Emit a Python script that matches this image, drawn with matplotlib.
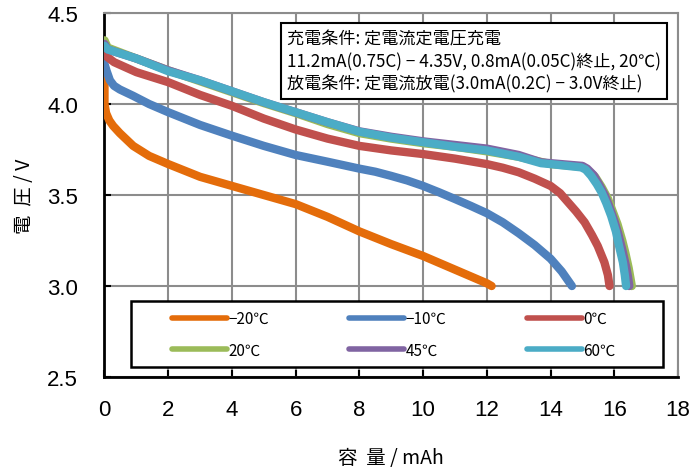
import matplotlib
matplotlib.use("Agg")
import matplotlib.pyplot as plt
from matplotlib.patches import Rectangle

plt.rcParams['font.family'] = ['Noto Sans CJK JP', 'DejaVu Sans']

# discharge curves: capacity (mAh) vs voltage (V)
x_m20 = [0, 0, 0.05, 0.15, 0.27, 0.48, 0.9, 1.4, 2, 2.5, 3, 3.5, 4, 5, 5.5, 6, 6.5, 7, 8, 9, 10, 11, 12, 12.15]
y_m20 = [4.17, 4.0, 3.95, 3.91, 3.88, 3.84, 3.77, 3.715, 3.67, 3.635, 3.60, 3.575, 3.55, 3.50, 3.475, 3.45, 3.415, 3.38, 3.30, 3.23, 3.165, 3.09, 3.015, 3.0]

x_m10 = [0, 0.07, 0.17, 0.3, 0.48, 0.9, 1.4, 2, 3, 4, 5, 6, 7, 8, 8.5, 9, 9.5, 10, 10.5, 11, 11.5, 12, 12.5, 13, 13.5, 14, 14.35, 14.67]
y_m10 = [4.22, 4.18, 4.13, 4.1, 4.08, 4.045, 4.0, 3.955, 3.885, 3.826, 3.77, 3.72, 3.683, 3.645, 3.628, 3.605, 3.58, 3.55, 3.515, 3.478, 3.44, 3.40, 3.35, 3.29, 3.225, 3.15, 3.08, 3.0]

x_0 = [0, 0.3, 1, 2, 3, 4, 5, 6, 7, 8, 9, 10, 11, 12, 12.5, 13, 13.5, 14, 14.3, 14.55, 14.8, 15.07, 15.3, 15.48, 15.69, 15.8, 15.85]
y_0 = [4.27, 4.23, 4.175, 4.12, 4.05, 3.99, 3.92, 3.86, 3.81, 3.77, 3.745, 3.725, 3.70, 3.67, 3.65, 3.625, 3.59, 3.55, 3.51, 3.46, 3.41, 3.35, 3.28, 3.22, 3.13, 3.06, 3.0]

x_20 = [0, 0.1, 1, 2, 3, 4, 5, 6, 7, 8, 9, 10, 11, 12, 13, 14, 15, 15.2, 15.4, 15.6, 15.8, 15.95, 16.1, 16.25, 16.35, 16.45, 16.55]
y_20 = [4.35, 4.31, 4.25, 4.185, 4.125, 4.065, 4.005, 3.95, 3.89, 3.84, 3.81, 3.785, 3.765, 3.74, 3.71, 3.67, 3.655, 3.63, 3.60, 3.545, 3.48, 3.41, 3.34, 3.25, 3.18, 3.10, 3.0]

x_45 = [0, 0.1, 1, 2, 3, 4, 5, 6, 7, 8, 9, 10, 11, 12, 13, 13.7, 14, 15, 15.15, 15.35, 15.5, 15.7, 15.85, 16.0, 16.12, 16.25, 16.38, 16.43, 16.47]
y_45 = [4.33, 4.30, 4.25, 4.185, 4.13, 4.07, 4.01, 3.955, 3.90, 3.85, 3.82, 3.795, 3.775, 3.755, 3.72, 3.68, 3.675, 3.66, 3.645, 3.61, 3.565, 3.50, 3.435, 3.36, 3.29, 3.20, 3.10, 3.05, 3.0]

x_60 = [0, 0.1, 1, 2, 3, 4, 5, 6, 7, 8, 9, 10, 11, 12, 13, 13.7, 14, 14.96, 15.1, 15.27, 15.45, 15.6, 15.75, 15.9, 16.05, 16.15, 16.27, 16.33, 16.37]
y_60 = [4.32, 4.30, 4.25, 4.18, 4.13, 4.07, 4.01, 3.955, 3.90, 3.848, 3.815, 3.79, 3.765, 3.745, 3.71, 3.675, 3.67, 3.652, 3.64, 3.606, 3.56, 3.515, 3.455, 3.386, 3.30, 3.22, 3.13, 3.06, 3.0]

labels = ['−20℃', '−10℃', '0℃', '20℃', '45℃', '60℃']
colors = ['#E46C0A', '#4F81BD', '#C0504D', '#9BBB59', '#8064A2', '#4BACC6']

fig = plt.figure(figsize=(6.92, 4.77), dpi=100)
ax = fig.add_axes([0.151, 0.2075, 0.8288, 0.7631])

series = [(x_m20, y_m20), (x_m10, y_m10), (x_0, y_0), (x_20, y_20), (x_45, y_45), (x_60, y_60)]
handles = []
for (xs, ys), lab, col in zip(series, labels, colors):
    h, = ax.plot(xs, ys, color=col, lw=6, label=lab, solid_capstyle='round',
                 solid_joinstyle='round', zorder=3)
    handles.append(h)

ax.set_xlim(0, 18)
ax.set_ylim(2.5, 4.5)
ax.set_xticks(range(0, 19, 2))
ax.set_yticks([2.5, 3.0, 3.5, 4.0, 4.5])
ax.set_yticklabels(['2.5', '3.0', '3.5', '4.0', '4.5'])
ax.grid(True, color='#8c8c8c', lw=1.5, zorder=1)
ax.tick_params(direction='in', length=5, width=1.5, labelsize=16)
ax.tick_params(axis='x', pad=16)
ax.tick_params(axis='y', pad=19)
for t in ax.get_xticklabels() + ax.get_yticklabels():
    t.set_family('Liberation Sans')
for s in ['left', 'bottom']:
    ax.spines[s].set_linewidth(2)
    ax.spines[s].set_color('black')
for s in ['top', 'right']:
    ax.spines[s].set_color('#8c8c8c')
    ax.spines[s].set_linewidth(1.5)

ax.set_xlabel('容  量 / mAh', fontsize=14, labelpad=19)
ax.set_ylabel('電  圧 / V', fontsize=14, labelpad=9)

ax.text(0.318, 0.955,
        '充電条件: 定電流定電圧充電\n'
        '11.2mA(0.75C) − 4.35V, 0.8mA(0.05C)終止, 20℃)\n'
        '放電条件: 定電流放電(3.0mA(0.2C) − 3.0V終止)',
        transform=ax.transAxes, fontsize=12.3, va='top', ha='left', linespacing=1.32,
        bbox=dict(boxstyle='square,pad=0.35', fc='white', ec='black', lw=1.5), zorder=5)

# legend frame
ax.add_patch(Rectangle((0.046, 0.0275), 0.928, 0.1815, transform=ax.transAxes,
                       fc='white', ec='black', lw=1.8, zorder=5))
order = [0, 3, 1, 4, 2, 5]
leg = ax.legend([handles[i] for i in order], [labels[i] for i in order], ncol=3,
                loc='upper left', bbox_to_anchor=(0.1177, 0.184), frameon=False,
                fontsize=11, handlelength=3.6, handletextpad=0.1, columnspacing=5.25,
                borderpad=0, borderaxespad=0, labelspacing=0.95)
leg.set_zorder(6)
for ln in leg.get_lines():
    ln.set_linewidth(4)

fig.savefig('out.png', dpi=100)
